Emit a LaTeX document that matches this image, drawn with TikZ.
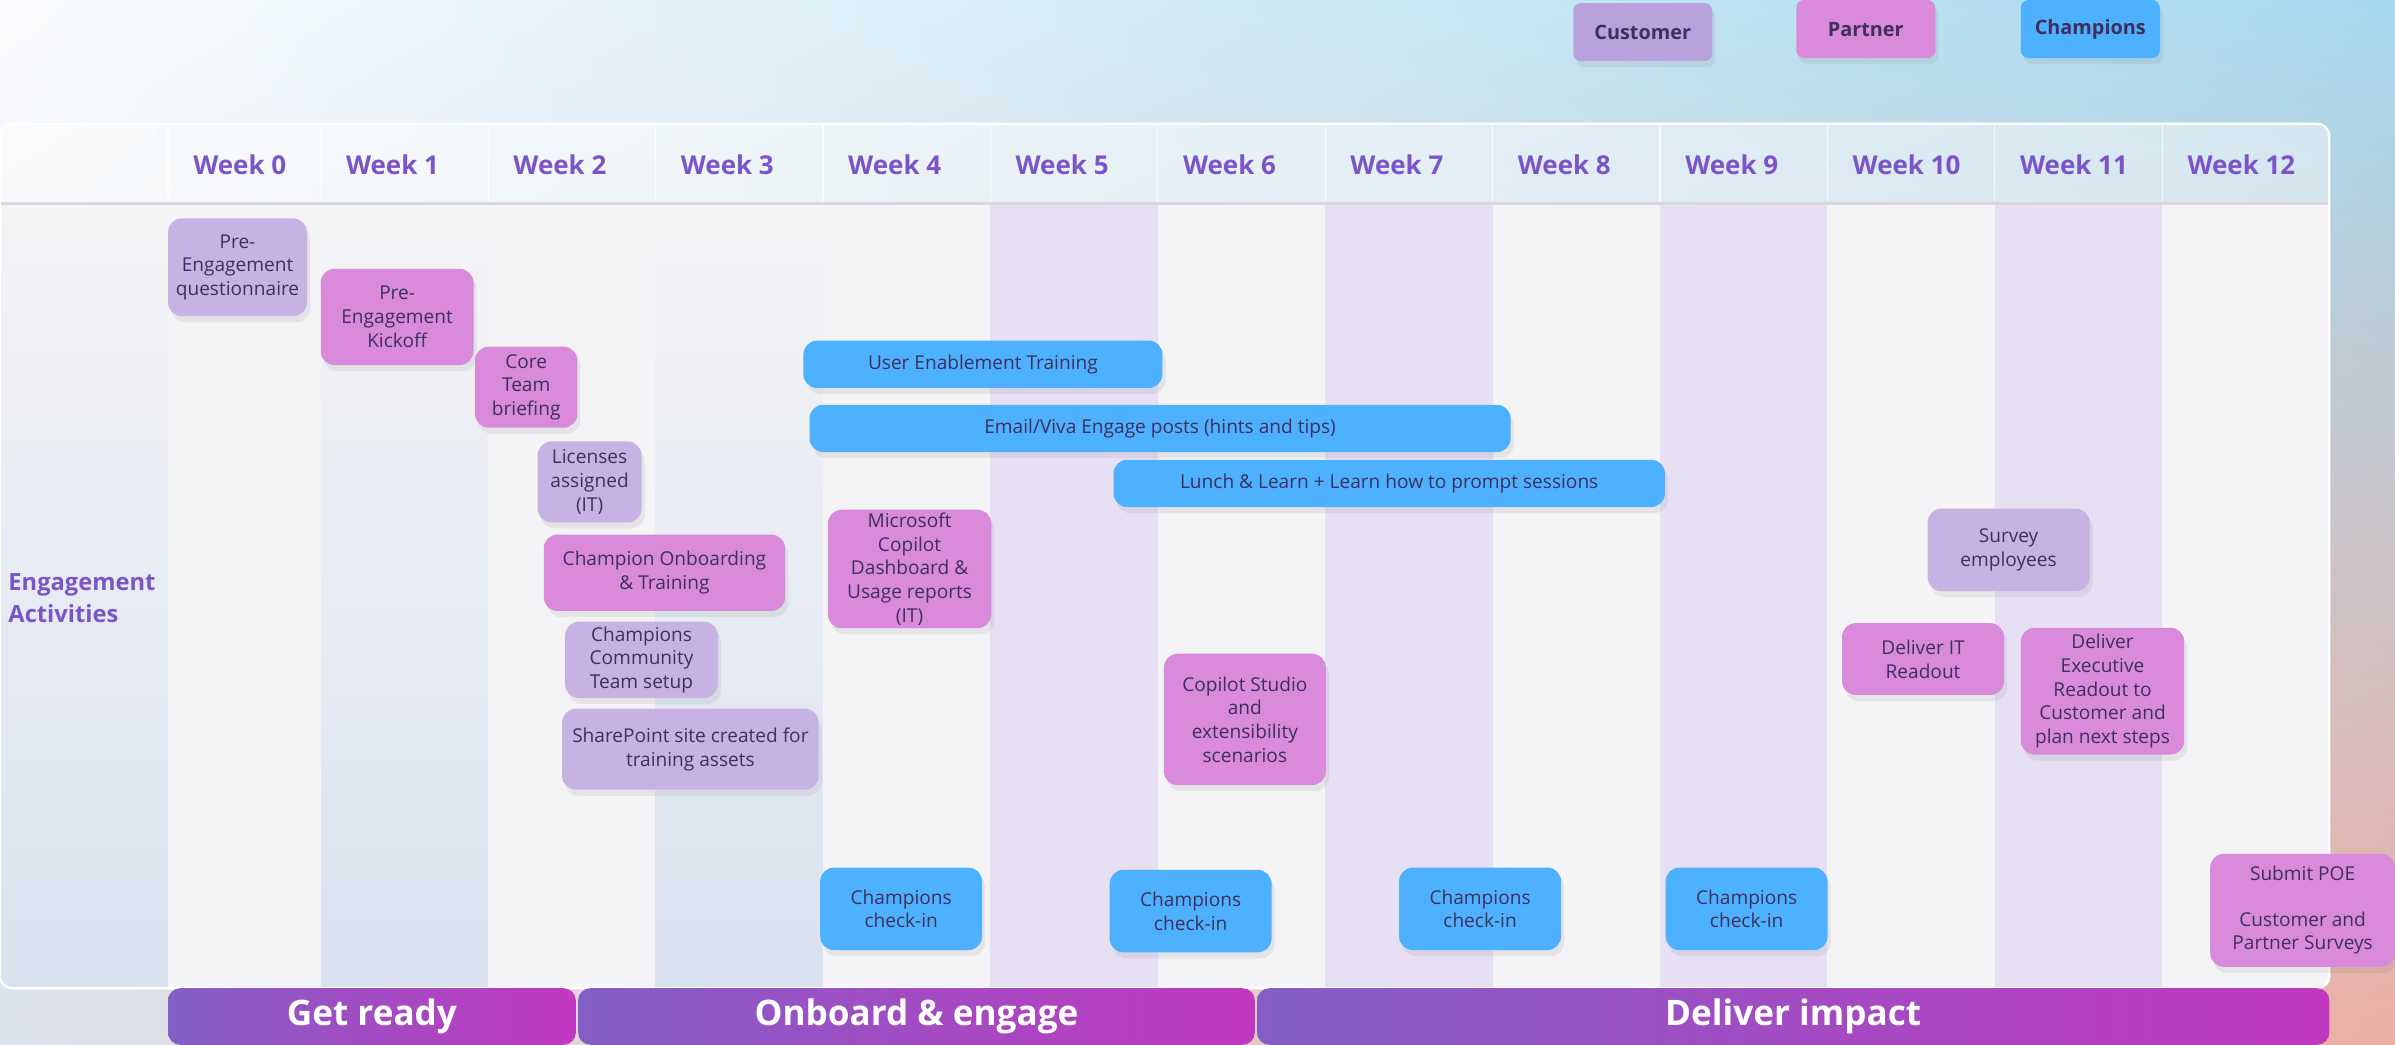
\documentclass[tikz,border=0pt]{standalone}
\usepackage{fontspec}
\setmainfont{Open Sans}
\usetikzlibrary{shadows,shadings}
\definecolor{custc}{HTML}{C6B3E3}
\definecolor{keyc}{HTML}{B9A1DC}
\definecolor{partc}{HTML}{D98ADB}
\definecolor{champc}{HTML}{4DB1FF}
\definecolor{txt}{HTML}{3E2F5C}
\definecolor{wk}{HTML}{7B55C8}
\definecolor{lav}{HTML}{E7DFF3}
\definecolor{pale}{HTML}{F4F4F6}
\definecolor{blu}{HTML}{DAE2F0}
\definecolor{sepc}{HTML}{D9D6DE}
\definecolor{phl}{HTML}{835FC5}
\definecolor{phr}{HTML}{C138C0}
\definecolor{bgtl}{HTML}{FBFCFE}
\definecolor{bgtr}{HTML}{A6D9EE}
\definecolor{bgbl}{HTML}{DCE2EC}
\definecolor{bgbr}{HTML}{ECAFA4}

\begin{document}
\begin{tikzpicture}[x=1pt,y=-1pt,
  box/.style={rounded corners=9pt,align=center,text=txt,inner sep=2pt,
    font=\fontsize{12.5}{15.5}\selectfont,
    drop shadow={opacity=0.13,shadow xshift=2pt,shadow yshift=-4pt}},
  cust/.style={box,fill=custc},
  part/.style={box,fill=partc},
  champ/.style={box,fill=champc},
  key/.style={box,rounded corners=5pt,minimum width=91pt,minimum height=38pt,
    font=\bfseries\fontsize{13}{15}\selectfont},
  week/.style={anchor=west,text=wk,font=\bfseries\fontsize{17}{20}\selectfont},
  phase/.style={rounded corners=8pt,left color=phl,right color=phr,minimum height=37pt,
    text=white,font=\bfseries\fontsize{23}{26}\selectfont}]
  \useasboundingbox (0,0) rectangle (1568,684);
  \shade[upper left=bgtl,upper right=bgtr,lower left=bgbl,lower right=bgbr]
    (0,0) rectangle (1568,684);

  \begin{scope}
    \clip[rounded corners=8pt] (0,81) rectangle (1525,647);
    \fill[white,opacity=0.45] (0,81) rectangle (1525,133);
    \fill[pale] (0,133) rectangle (1525,647);
    \shade[top color=pale,bottom color=blu] (0,133) rectangle (110,647);
    \foreach \i in {1,3}
      \shade[top color=pale,bottom color=blu] ({210+109.6*(\i-1)},133) rectangle ({210+109.6*\i},647);
    \foreach \i in {5,7,9,11}
      \fill[lav] ({210+109.6*(\i-1)},133) rectangle ({210+109.6*\i},647);
    \foreach \i in {0,...,12}
      \draw[white,opacity=0.7,line width=0.8pt] ({210+109.6*(\i-1)},81) -- ({210+109.6*(\i-1)},133);
  \end{scope}
  \draw[white,opacity=0.7,line width=0.8pt] (110,81) -- (110,133);
  \draw[sepc,line width=2pt] (0,133) -- (1525,133);
  \draw[white,line width=1.5pt,rounded corners=8pt] (0,81) rectangle (1525,647);

  \node[week] (w0) at (123,108) {Week 0};
  \foreach \i in {1,...,12}
    \node[week] (w\i) at ({223+109.6*(\i-1)},108) {Week \i};
  \node[anchor=west,align=left,text=wk,font=\bfseries\fontsize{15.5}{21}\selectfont]
    (eng) at (2,391.5) {Engagement\\Activities};

  \node[phase,minimum width=267pt] (ready) at (243.5,665.5) {Get ready};
  \node[phase,minimum width=443pt] (onboard) at (600,665.5) {Onboard \& engage};
  \node[phase,minimum width=702pt] (impact) at (1174,665.5) {Deliver impact};

  \node[key,fill=keyc] (kcust) at (1075.5,21) {Customer};
  \node[key,fill=partc] (kpart) at (1221.5,19) {Partner};
  \node[key,fill=champc] (kchamp) at (1368.5,19) {Champions};

  \node[cust,minimum width=91pt,minimum height=64pt] (quest) at (155.5,175) {Pre-\\Engagement\\questionnaire};
  \node[part,minimum width=100pt,minimum height=63pt] (kickoff) at (260,207.5) {Pre-\\Engagement\\Kickoff};
  \node[part,minimum width=67pt,minimum height=53pt] (core) at (344.5,253.5) {Core\\Team\\briefing};
  \node[cust,minimum width=68pt,minimum height=53pt] (lic) at (386,315.5) {Licenses\\assigned\\(IT)};
  \node[part,minimum width=158pt,minimum height=50pt] (onbtrain) at (435,375) {Champion Onboarding\\\& Training};
  \node[cust,minimum width=100pt,minimum height=50pt] (community) at (420,432) {Champions\\Community\\Team setup};
  \node[cust,minimum width=168pt,minimum height=53pt] (spsite) at (452,490.5) {SharePoint site created for\\training assets};
  \node[champ,minimum width=235pt,minimum height=31pt] (uet) at (643.5,238.5) {User Enablement Training};
  \node[champ,minimum width=459pt,minimum height=31pt] (viva) at (759.5,280.5) {Email/Viva Engage posts (hints and tips)};
  \node[champ,minimum width=361pt,minimum height=31pt] (lunch) at (909.5,316.5) {Lunch \& Learn + Learn how to prompt sessions};
  \node[part,minimum width=107pt,minimum height=77pt] (dash) at (595.5,372.5) {Microsoft\\Copilot\\Dashboard \&\\Usage reports\\(IT)};
  \node[part,minimum width=106pt,minimum height=86pt] (studio) at (815,471) {Copilot Studio\\and\\extensibility\\scenarios};
  \foreach \n/\x/\y in {ci1/590/595, ci2/779.5/596.5, ci3/969/595, ci4/1143.5/595}
    \node[champ,minimum width=106pt,minimum height=54pt] (\n) at (\x,\y) {Champions\\check-in};
  \node[cust,minimum width=106pt,minimum height=54pt] (survey) at (1315,360) {Survey\\employees};
  \node[part,minimum width=106pt,minimum height=47pt] (itread) at (1259,431.5) {Deliver IT\\Readout};
  \node[part,minimum width=107pt,minimum height=83pt] (execread) at (1376.5,452.5) {Deliver\\Executive\\Readout to\\Customer and\\plan next steps};
  \node[part,minimum width=121pt,minimum height=74pt] (poe) at (1507.5,596) {Submit POE\\[14pt]Customer and\\Partner Surveys};
\end{tikzpicture}
\end{document}
